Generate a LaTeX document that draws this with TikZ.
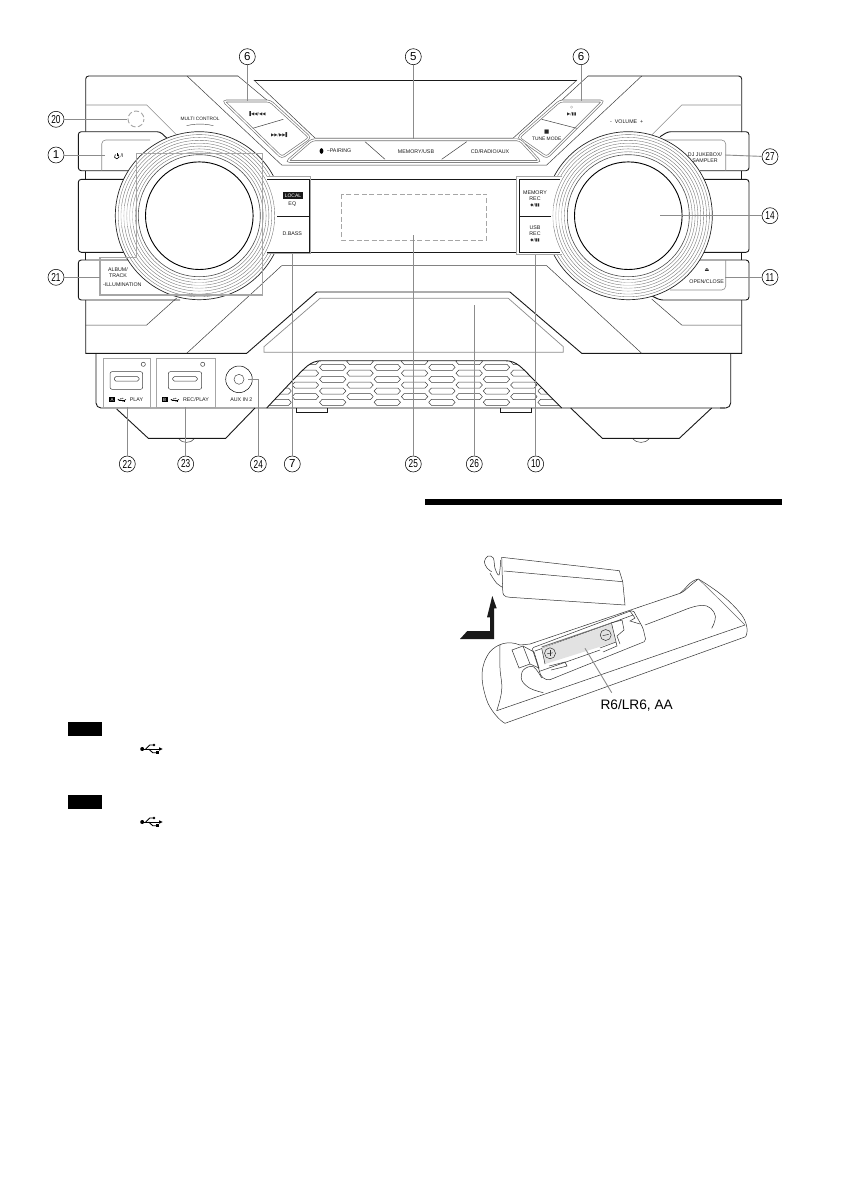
\documentclass[tikz,border=0pt]{standalone}
\usepackage{fontspec}
\setmainfont{Liberation Sans}
\newfontfamily\symf{DejaVu Sans}
\usetikzlibrary{calc}
\definecolor{cgray}{HTML}{A6A6A6}
\definecolor{lgray}{HTML}{8C8C8C}
\definecolor{ringc}{HTML}{6E6E6E}
\definecolor{battc}{HTML}{E2E2E2}
\tikzset{
  bodyl/.style={line width=0.9pt,draw=black!90},
  thinl/.style={line width=0.5pt,draw=black!75},
  softl/.style={line width=0.6pt,draw=black!45},
  callout/.style={line width=1.2pt,draw=cgray},
  leaderl/.style={line width=0.9pt,draw=lgray},
  rim/.style={line width=0.65pt,draw=black!55,double=white,double distance=1.3pt,rounded corners=3pt},
  num/.style={circle,draw=black,line width=0.55pt,minimum size=16pt,inner sep=0pt,font=\fontsize{11.5}{12}\selectfont},
  lab/.style={inner sep=0pt,align=center,text=black!90,font=\fontsize{5.3}{6.2}\selectfont},
  ic/.style={inner sep=0pt,text=black!85,font=\symf\fontsize{4.2}{5}\selectfont},
  ring/.style={line width=0.35pt,draw=ringc},
  rml/.style={line width=0.5pt,draw=black!80},
  hexl/.style={line width=0.5pt,draw=black!75},
}
\newcommand\nn[1]{\scalebox{0.72}[1]{#1}}
\newcommand\usbsign[3]{%
 \begin{scope}[shift={(#1,#2)},scale=#3]
  \fill[black] (-9.5,0) circle[radius=2];
  \draw[line width=#3*0.9pt] (-9,0) -- (8,0);
  \fill[black] (11,0) -- (7.5,-1.7) -- (7.5,1.7) -- cycle;
  \draw[line width=#3*0.9pt] (-6,0) -- (-2,-4) -- (2,-4);
  \fill[black] (2.3,-4) circle[radius=1.4];
  \draw[line width=#3*0.9pt] (-3,0) -- (1,3.7) -- (5,3.7);
  \fill[black] (4.5,2.3) rectangle (7.2,5);
 \end{scope}}
\begin{document}
\begin{tikzpicture}[x=1pt,y=-1pt]
\useasboundingbox (0,0) rectangle (841,1191);
\fill[white] (0,0) rectangle (841,1191);

% ---- upper body ----
\draw[bodyl,rounded corners=3pt] (85.7,131.7) -- (85.7,76) -- (238,76);
\draw[thinl] (238,76) -- (268,101);
\draw[thinl] (187,76) -- (281.7,165) -- (546.7,165) -- (641.7,76);
\draw[bodyl] (253.8,80) -- (577,80);
\draw[thinl] (253.8,80) -- (315,138) -- (513.3,138) -- (577,80);
\draw[thinl] (588,76) -- (561,101);
\draw[bodyl,rounded corners=3pt] (588,76) -- (741.7,76) -- (741.7,132);
\draw[bodyl] (741.7,171) -- (741.7,179);
\draw[bodyl] (741.7,252) -- (741.7,260);
\draw[bodyl] (741.7,300) -- (741.7,353.3) -- (581.7,353.3) -- (510,292) -- (316.7,292) -- (246.7,353.3) -- (85.7,353.3) -- (85.7,300);
\draw[bodyl] (85.7,252) -- (85.7,260);
\draw[bodyl] (85.7,171) -- (85.7,179);
% shoulder lines
\draw[softl] (85.7,105) -- (146.7,105) -- (176.7,135);
\draw[softl] (741.7,105) -- (681.7,105) -- (651.7,135);
\draw[thinl] (176.7,298) -- (146.7,325) -- (85.7,325);
\draw[thinl] (651.7,299) -- (681.7,325) -- (741.7,325);
\draw[thinl] (186.7,353.3) -- (281.7,265.7) -- (546.7,265.7) -- (641.7,353.3);
\draw[softl,line width=0.7pt] (320,298.3) -- (264,346.7) -- (264,352.3) -- (563.3,352.3) -- (563.3,346.7) -- (508.3,298.3) -- cycle;
% display strip
\draw[bodyl] (310,179.3) -- (517,179.3);
\draw[bodyl] (310,252.3) -- (517,252.3);
\draw[cgray,line width=0.8pt,dash pattern=on 5pt off 2.6pt] (341.7,194) rectangle (486.7,240);

% ---- side blocks ----
\draw[bodyl,rounded corners=3pt] (166.7,138) -- (160,131.7) -- (78.3,131.7) -- (78.3,170.7) -- (130,170.7);
\draw[softl,rounded corners=4pt] (101.7,170.7) -- (101.7,140) -- (150,140);
\draw[bodyl,rounded corners=3pt] (130,179.3) -- (78.3,179.3) -- (78.3,252.3) -- (130,252.3);
\draw[bodyl,rounded corners=3pt] (130,260) -- (78.3,260) -- (78.3,300) -- (180,300);
\draw[bodyl,rounded corners=3pt] (660,136.7) -- (668,131.7) -- (749,131.7) -- (749,170.7) -- (700,170.7);
\draw[softl,rounded corners=4pt] (663,140) -- (725.7,140) -- (725.7,170.7);
\draw[bodyl,rounded corners=3pt] (700,179.3) -- (749,179.3) -- (749,252.3) -- (700,252.3);
\draw[bodyl,rounded corners=3pt] (695,260) -- (749,260) -- (749,300) -- (660,300) -- (652,296);
\draw[softl,rounded corners=4pt] (725.7,260) -- (725.7,290) -- (670,290);

% ---- dials ----
\foreach \cx/\px/\qx in {199.3/264/310.5,628.3/518/565}{
  \fill[white] (\cx,215.7) circle[radius=84];
  \draw[line width=0.7pt,draw=black!85] (\cx,215.7) circle[radius=84];
  \foreach \r in {81.1,78.3}{\draw[ring] (\cx,215.7) circle[radius=\r];}
  \fill[white] (\px,176.5) rectangle (\qx,254);
  \foreach \r in {75.4,72.5,69.6,66.8,63.9}{\draw[ring] (\cx,215.7) circle[radius=\r];}
  \draw[line width=0.6pt,draw=black!70] (\cx,215.7) circle[radius=61];
  \draw[line width=0.9pt,draw=black] (\cx,215.7) circle[radius=53.8];
}
% light patches of the rings
\foreach \cx in {199.3,628.3}{
  \draw[white,line width=14pt,opacity=0.45] ($(\cx,215.7)+(-72,-10)$) -- ($(\cx,215.7)+(-72,10)$);
  \draw[white,line width=12pt,opacity=0.45] ($(\cx,215.7)+(-6,72)$) -- ($(\cx,215.7)+(6,72)$);
}

% ---- button panels ----
\draw[bodyl] (267,179.3) -- (309.3,179.3) -- (309.3,252.3) -- (267,252.3);
\draw[bodyl] (277,216.3) -- (309.3,216.3);
\draw[callout] (266.7,176.7) -- (310.7,176.7) -- (310.7,253.5) -- (266.7,253.5);
\draw[bodyl] (560,179.3) -- (519.3,179.3) -- (519.3,252.3) -- (560,252.3);
\draw[bodyl] (519.3,216.3) -- (551,216.3);
\draw[callout] (561.7,176.7) -- (516.7,176.7) -- (516.7,254.3) -- (561.7,254.3);

\draw[rim,fill=white] (223.5,101) -- (270,101) -- (310,137.7) -- (281.7,157.5) -- cycle;
\draw[thinl] (252.7,128.3) -- (283.3,119.3);
\draw[rim,fill=white] (560,101) -- (603.3,101) -- (546.7,157.5) -- (518.3,137.7) -- cycle;
\draw[thinl] (541.7,119.3) -- (576.7,128.3);
\draw[rim,fill=white] (312,139.8) -- (520,139.8) -- (540,161.5) -- (287,161.5) -- cycle;
\draw[thinl] (365,141.7) -- (385,159.3);
\draw[thinl] (466.7,141.7) -- (441.7,159.3);

% left callout over the dial
\draw[callout] (136.7,153.3) -- (262.7,153.3) -- (262.7,295) -- (100,295) -- (100,257.3) -- (136.7,257.3) -- cycle;

% ---- lower body ----
\draw[bodyl,rounded corners=5pt] (96,353.3) -- (96,408) -- (725,408);
\draw[bodyl,rounded corners=5pt] (730.7,353.3) -- (730.7,408) -- (720,408);
\draw[bodyl] (116.7,409) -- (148.3,438.3) -- (225.7,438.3) -- (255,408);
\draw[bodyl] (570.7,408) -- (602.3,438.3) -- (679.3,438.3) -- (711.7,408);
\draw[thinl] (179,439) .. controls (182,443.5) and (191,443.5) .. (194,439);
\draw[thinl] (633,439) .. controls (636,443.5) and (646,443.5) .. (649,439);
\draw[bodyl,line width=0.7pt] (296,408.3) -- (296,412.3) -- (327,412.3) -- (327,408.3);
\draw[bodyl,line width=0.7pt] (500.3,408.3) -- (500.3,412.3) -- (531.7,412.3) -- (531.7,408.3);

% grille
\begin{scope}
 \clip (266.7,408) -- (293,380) .. controls (305,368) and (310,360.7) .. (322,360.7) -- (505,360.7) .. controls (517,360.7) and (522,368) .. (534,380) -- (561.7,408) -- cycle;
 \foreach \k in {-3,-1,1,3,5,7,9}{
  \pgfmathsetmacro\xc{332.7+27.3*\k}
  \foreach \yc in {361.5,373.2,385,396.6}{
   \draw[hexl] (\xc-13.2,\yc) -- (\xc-10.5,\yc-3) -- (\xc+10.5,\yc-3) -- (\xc+13.2,\yc) -- (\xc+10.5,\yc+3) -- (\xc-10.5,\yc+3) -- cycle;
  }
 }
 \foreach \k in {-4,-2,0,2,4,6,8,10}{
  \pgfmathsetmacro\xc{332.7+27.3*\k}
  \foreach \yc in {367.3,379.3,391,402.3}{
   \draw[hexl] (\xc-13.2,\yc) -- (\xc-10.5,\yc-3) -- (\xc+10.5,\yc-3) -- (\xc+13.2,\yc) -- (\xc+10.5,\yc+3) -- (\xc-10.5,\yc+3) -- cycle;
  }
 }
\end{scope}
\draw[bodyl] (266.7,408) -- (293,380) .. controls (305,368) and (310,360.7) .. (322,360.7) -- (505,360.7) .. controls (517,360.7) and (522,368) .. (534,380) -- (561.7,408);

% USB panels
\fill[white] (103.3,358.3) rectangle (150.7,407.3);
\fill[white] (156.7,358.3) rectangle (215,407.3);
\draw[callout,line width=0.9pt] (103.3,358.3) rectangle (150.7,407.3);
\draw[callout,line width=0.9pt] (156.7,358.3) rectangle (215,407.3);
\draw[thinl,rounded corners=2pt] (110,371.7) rectangle (142.7,389.3);
\draw[thinl,rounded corners=1.5pt] (114.3,376.7) rectangle (139,381);
\draw[thinl] (143.3,364.3) circle[radius=2.1];
\draw[thinl,rounded corners=2pt] (168.3,371.7) rectangle (201.7,389.3);
\draw[thinl,rounded corners=1.5pt] (172.7,376.7) rectangle (197.3,381);
\draw[thinl] (202.7,364.3) circle[radius=2.1];
\node[fill=black,text=white,inner sep=0pt,minimum width=6pt,minimum height=5.5pt,font=\fontsize{4.5}{5}\selectfont] (boxa) at (112,399.7) {A};
\node[fill=black,text=white,inner sep=0pt,minimum width=6pt,minimum height=5.5pt,font=\fontsize{4.5}{5}\selectfont] (boxb) at (164.7,399.7) {B};
\usbsign{122}{399.7}{0.38}
\usbsign{175}{399.7}{0.38}
\node[lab] (tplay) at (136.5,400) {PLAY};
\node[lab] (trec) at (196,400) {REC/PLAY};
\draw[line width=0.5pt] (239,379.3) circle[radius=13.3];
\node[circle,draw=black!70,line width=0.5pt,minimum size=10pt,inner sep=0pt] (auxj) at (239,379.3) {};
\node[lab] (taux) at (241.3,400) {AUX IN 2};

% ---- labels on the panels ----
\draw[thinl,line width=0.4pt] (186.7,125.7) .. controls (195,123.5) and (205,123.5) .. (213.3,125.7);
\node[lab,font=\fontsize{4.8}{6}\selectfont] (tmulti) at (200,119) {MULTI CONTROL};
\node[lab] (tvol) at (626.7,121.7) {-\ \ VOLUME\ \ +};
\node[ic] (tskipa) at (256.7,114) {▐◀◀/◀◀};
\node[ic] (tskipb) at (280,135) {▶▶/▶▶▌};
\node[ic,font=\symf\fontsize{3.5}{4}\selectfont] (tdia) at (571.7,107.7) {◇};
\node[ic] (tplaypause) at (571.7,114.3) {▶/▮▮};
\node[ic,font=\symf\fontsize{5.5}{6}\selectfont] (tstop) at (546.7,131.7) {■};
\node[lab,font=\fontsize{4.9}{6}\selectfont] (ttune) at (546.7,138.4) {TUNE MODE};
\fill[black] (321.5,151) ellipse[x radius=1.9,y radius=2.8];
\node[lab] (tpair) at (339,151) {−PAIRING};
\node[lab] (tmem) at (416,151.5) {MEMORY/USB};
\node[lab] (tcd) at (490,151.7) {CD/RADIO/AUX};
\node[fill=black!90,text=white,inner sep=0pt,minimum width=19.4pt,minimum height=7.6pt,font=\fontsize{5}{6}\selectfont] (tlocal) at (293,195.5) {LOCAL};
\node[lab] (teq) at (292.3,204.3) {EQ};
\node[lab] (tbass) at (292.3,233.3) {D.BASS};
\node[lab,font=\fontsize{5.3}{6.6}\selectfont] (tmemrec) at (535,195.8) {MEMORY\\REC};
\node[ic] (tmr) at (535,205) {◆/▮▮};
\node[lab,font=\fontsize{5.3}{6.6}\selectfont] (tusbrec) at (535,230.8) {USB\\REC};
\node[ic] (tur) at (535,240) {◆/▮▮};
\node[lab,align=center] (talb) at (118,273) {ALBUM/\\TRACK};
\node[lab] (till) at (122.3,284.3) {-ILLUMINATION};
\node[lab] (tdj) at (705,157.3) {DJ JUKEBOX/\\SAMPLER};
\node[ic,font=\symf\fontsize{5}{6}\selectfont] (tej) at (707,270.5) {⏏};
\node[lab] (topen) at (706.7,281.3) {OPEN/CLOSE};
% power symbol
\draw[line width=0.6pt] (115.4,154.4) .. controls (113.4,156) and (114.6,158.8) .. (116.8,158.8) .. controls (119,158.8) and (120.2,156) .. (118.2,154.4);
\draw[line width=0.6pt] (116.8,153.2) -- (116.8,156.4);
\node[lab] (tpow) at (122.2,156) {/I};

% ---- callout numbers and leaders ----
\node[num] (c6a) at (247.3,56.7) {6};
\node[num] (c5) at (413.3,56.7) {5};
\node[num] (c6b) at (581,56.7) {6};
\node[num] (c20) at (56,119.3) {\nn{20}};
\node[num] (c1) at (56,155) {1};
\node[num] (c21) at (56,277.3) {\nn{21}};
\node[num] (c27) at (770,156.7) {\nn{27}};
\node[num] (c14) at (770,215.7) {\nn{14}};
\node[num] (c11) at (770,277.3) {\nn{11}};
\node[num] (c22) at (127.3,464) {\nn{22}};
\node[num] (c23) at (185.7,464) {\nn{23}};
\node[num] (c24) at (258.3,464) {\nn{24}};
\node[num] (c7) at (292.3,464) {7};
\node[num] (c25) at (413.3,464) {\nn{25}};
\node[num] (c26) at (474.3,464) {\nn{26}};
\node[num] (c10) at (535.7,464) {\nn{10}};
\coordinate (e6a) at (247.3,101);
\coordinate (e5) at (413.3,139);
\coordinate (e6b) at (581,101);
\coordinate (e20) at (127,119.3);
\coordinate (e1) at (105,155);
\coordinate (e21) at (100,277.3);
\coordinate (e27) at (725,155);
\coordinate (e14) at (660,215.7);
\coordinate (e11) at (725,277.3);
\coordinate (e22) at (127.3,407.3);
\coordinate (e23) at (185.7,407.3);
\coordinate (e24) at (248,379.3);
\coordinate (e7) at (292.3,254);
\coordinate (e25) at (413.3,235);
\coordinate (e26) at (474.3,305);
\coordinate (e10) at (535.7,254.5);
\foreach \n in {6a,5,6b,20,1,21,27,14,11,22,23,7,25,26,10}{\draw[leaderl] (c\n) -- (e\n);}
\draw[leaderl] (c24) |- (e24);
\draw[cgray,line width=0.9pt,dash pattern=on 5pt off 2.5pt,dash phase=2pt] (136,119) circle[radius=8];

% ---- left column marks ----
\fill[black] (68,722) rectangle (102,736);
\fill[black] (68,795) rectangle (102,809);
\usbsign{151.7}{749}{1}
\usbsign{151.7}{822}{1}

% ---- rule ----
\fill[black] (425,499) rectangle (782,505);

% ---- remote ----
% cover
\draw[rml] (501.7,557.3) -- (619.3,570.7) -- (622.7,581.7) -- (625,605) -- (510,597.3) .. controls (504,597) and (502.7,595) .. (502.7,590) -- (501.7,557.3);
\draw[rml] (504,571) -- (622.7,581.7);
\draw[rml] plot[smooth,tension=0.6] coordinates {(500.7,560) (499,575) (495,568.3) (493.3,558) (488,556) (484.3,561.7) (487.3,568.3) (491.7,571.7)};
\draw[rml] plot[smooth,tension=0.6] coordinates {(490,573.3) (496.7,583.3) (502.7,587.3)};
% arrow
\fill[black!90] (460,639) -- (467.3,631) -- (490,631) -- (490,617.3) -- (487,617.3) -- (492.3,596) -- (496.7,608.3) -- (494,608.3) -- (494,639) -- cycle;
% outline
\draw[rml] (530,644) -- (680,593.3) .. controls (686,589) and (689,581) .. (698.3,579) .. controls (715,589) and (730,600) .. (741.7,615) .. controls (746,621) and (749,630) .. (745.7,636.7) -- (505,723.3) .. controls (500,721) and (490,710) .. (486.7,700) .. controls (480,680) and (480,665) .. (490,651.7) .. controls (497,644) and (508,640) .. (520,645) -- cycle;
\draw[rml] (745,625) -- (496.7,710.7);
\draw[rml] (680,593.3) .. controls (684,592) and (688,587) .. (698.3,579);
\draw[rml,draw=black!60] (699,579.5) .. controls (715,595) and (730,610) .. (745,625);
\draw[rml] plot[smooth,tension=0.7] coordinates {(496.7,710.7) (501.7,690) (500,668) (500,645)};
% compartment
\draw[rml,rounded corners=2pt] (532,648) -- (633,610) -- (643,628) -- (646,641) -- (548,680.5) -- (541,676.5) -- (537,663) -- cycle;
\draw[rml] (535,651) -- (633,615);
\draw[rml] (645,625) -- (680,611.7) .. controls (690,607.5) and (700,604) .. (706.7,606) .. controls (713,608) and (717,616) .. (715,620) .. controls (714,624) and (713,626) .. (711.7,628.3);
\draw[rml] plot[smooth,tension=0.6] coordinates {(541.7,678) (533.3,666.7) (523.3,670) (521.7,680) (530,688.3) (543.3,692.7)};
\draw[rml] (539,671.5) -- (600,650);
% end blocks
\draw[rml] (512,650) -- (523,646) -- (530,664) -- (519,668) -- cycle;
\draw[rml] (523,646) -- (534,652) -- (539,668) -- (530,664);
% battery
\fill[battc] (541.7,648.3) -- (611.7,624) -- (616,641.7) -- (545,664) -- cycle;
\draw[line width=1pt,draw=black!55] (541.7,647) -- (611.7,623);
\draw[rml] (541.7,648.3) -- (545,664);
\draw[rml] (611.7,624) -- (616,641.7);
\draw[rml,fill=battc] (550,653.3) circle[radius=5.5];
\draw[rml] (547,653.8) -- (553,652.8);
\draw[rml] (550,650.3) -- (550,656.3);
\draw[rml,fill=battc] (605.7,635) circle[radius=5.5];
\draw[rml] (602.7,635.7) -- (608.7,634.3);
\draw[rml] (549,666) -- (565,662) -- (567,666) -- (551,670);
\draw[rml] (600,648) -- (616,642) -- (617,646) -- (603,652);
\draw[rml] (611,623) -- (622,620) -- (624,630) -- (617,636) -- (620,644);
\draw[rml] (630,611) -- (635,618) -- (630,621) -- (640,624);
% leader and label
\node[inner sep=0pt,font=\fontsize{13.7}{15}\selectfont] (trem) at (636.7,705.3) {R6/LR6, AA};
\coordinate (ebat) at (585,648.3);
\draw[leaderl] (611.7,692.7) -- (ebat);
\end{tikzpicture}
\end{document}
